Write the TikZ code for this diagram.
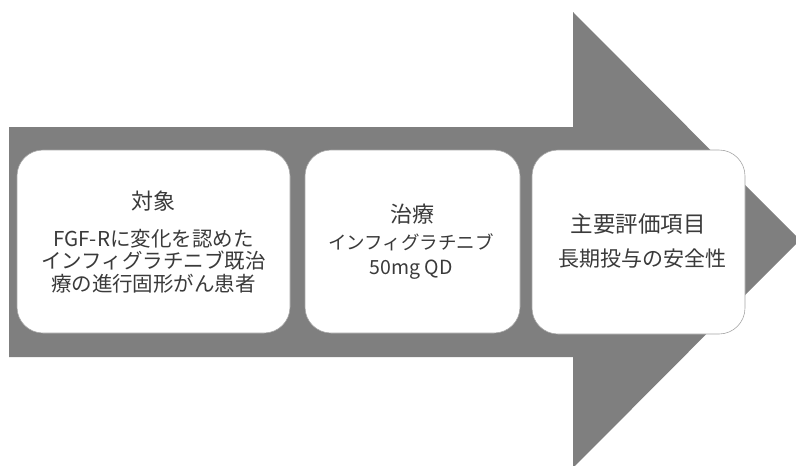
\documentclass[tikz,border=0pt]{standalone}
\usepackage{fontspec}
\setmainfont{Noto Sans CJK JP}
\definecolor{arrowgray}{HTML}{7F7F7F}
\definecolor{txt}{HTML}{3A3A3A}
\begin{document}
\begin{tikzpicture}[x=1pt,y=-1pt,
  card/.style={draw=black!35, line width=0.6pt, fill=white, rounded corners=26pt, inner sep=0pt},
  lbl/.style={text=txt, align=center, inner sep=0pt}]
\useasboundingbox (0,0) rectangle (796,466);
% big arrow
\fill[arrowgray] (9,127) -- (573,127) -- (573,12) -- (800,240) -- (573,468) -- (573,357) -- (9,357) -- cycle;
% cards
\node[card, minimum width=273pt, minimum height=183pt] (b1) at (153.5,241.5) {};
\node[card, minimum width=215pt, minimum height=183pt] (b2) at (412.5,241.5) {};
\node[card, minimum width=213pt, minimum height=184pt] (b3) at (638.5,242) {};
% texts
\node[lbl, font=\fontsize{22}{23}\selectfont] (t1) at (153.5,201) {対象};
\node[lbl, font=\fontsize{20.5}{22.5}\selectfont] (d1) at (153.5,261) {FGF-Rに変化を認めた\\インフィグラチニブ既治\\療の進行固形がん患者};
\node[lbl, font=\fontsize{22}{23}\selectfont] (t2) at (412.5,214) {治療};
\node[lbl, font=\fontsize{18.5}{25}\selectfont] (d2) at (411,256.5) {インフィグラチニブ\\{\fontsize{19.5}{25}\selectfont 50mg QD}};
\node[lbl, font=\fontsize{22.5}{23}\selectfont] (t3) at (638,224) {主要評価項目};
\node[lbl, font=\fontsize{21}{23}\selectfont] (d3) at (642,259) {長期投与の安全性};
\end{tikzpicture}
\end{document}
